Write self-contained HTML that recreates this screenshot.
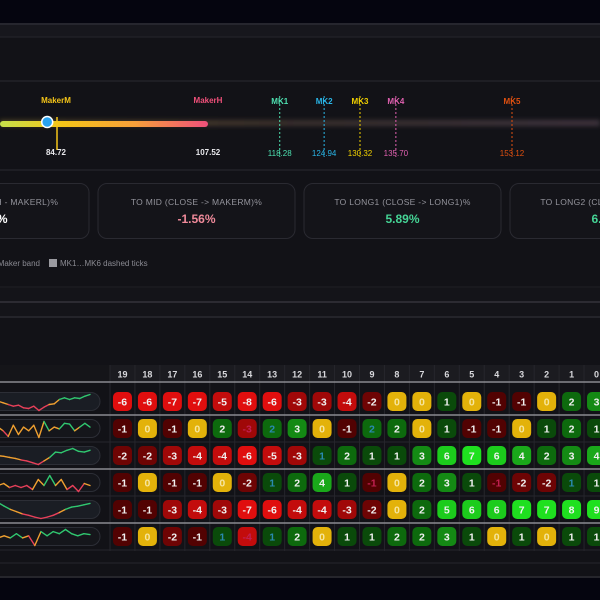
<!DOCTYPE html>
<html><head><meta charset="utf-8"><style>
html,body{margin:0;padding:0;background:#05050f;width:600px;height:600px;overflow:hidden}
svg{display:block;font-family:"Liberation Sans",sans-serif}
</style></head><body>
<svg id="chart" width="600" height="600" viewBox="0 0 600 600">
<defs>
<linearGradient id="bandGrad" x1="0" x2="1" y1="0" y2="0">
<stop offset="0" stop-color="#c6e04a"/><stop offset="0.3" stop-color="#f5c518"/><stop offset="0.65" stop-color="#f7a03a"/><stop offset="1" stop-color="#f0507a"/>
</linearGradient>
<linearGradient id="glowGrad" x1="0" x2="1"><stop offset="0" stop-color="#6a5a28" stop-opacity="0.7"/><stop offset="0.5" stop-color="#54423a" stop-opacity="0.6"/><stop offset="1" stop-color="#5a4a58" stop-opacity="0.6"/></linearGradient>
<filter id="blur" x="-10%" y="-200%" width="120%" height="500%"><feGaussianBlur stdDeviation="2.5"/></filter>
</defs>
<rect x="0" y="0" width="600" height="600" fill="#05050f"/>
<rect x="0" y="23" width="600" height="555" fill="#121217"/>
<rect x="0" y="23" width="600" height="14" fill="#17171d"/>
<line x1="0" x2="600" y1="24" y2="24" stroke="#2c2c34" stroke-width="1.5"/>
<line x1="0" x2="600" y1="37" y2="37" stroke="#26262c"/>
<line x1="0" x2="600" y1="81" y2="81" stroke="#222228" stroke-width="1.5"/>
<line x1="0" x2="600" y1="170" y2="170" stroke="#222228" stroke-width="1.5"/>
<line x1="0" x2="600" y1="287" y2="287" stroke="#202026"/>
<rect x="0" y="288" width="600" height="29" fill="#141419"/>
<line x1="0" x2="600" y1="302" y2="302" stroke="#35333a" stroke-width="1.5"/>
<line x1="0" x2="600" y1="317" y2="317" stroke="#2a2a30" stroke-width="1.5"/>
<line x1="0" x2="600" y1="563" y2="563" stroke="#26262c"/>
<line x1="0" x2="600" y1="577" y2="577" stroke="#2c2c34" stroke-width="1.5"/>
<rect x="0" y="578" width="600" height="22" fill="#05050f"/>
<g id="gauge"></g>
<g id="cards"></g>
<g>
<text x="40" y="266" text-anchor="end" font-size="8" fill="#8a8a92">Maker band</text>
<rect x="49" y="259" width="8" height="8" fill="#9a9aa0"/>
<text x="60" y="266" font-size="8" fill="#8a8a92">MK1…MK6 dashed ticks</text>
</g>
<g id="table"></g>
</svg>
<script>
const NS="http://www.w3.org/2000/svg";
function mk(tag,attrs,parent,txt){const e=document.createElementNS(NS,tag);for(const k in attrs)e.setAttribute(k,attrs[k]);if(txt!==undefined)e.textContent=txt;parent.appendChild(e);return e;}

// ---- gauge data ----
const makerLabels=["MakerM","MakerH"];
const makerValues=[84.72,107.52];
const makerColors=["#f5c518","#f0507a"];
const makerLow=76.32;
const closeValue=83.4;
const mkLabels=["MK1","MK2","MK3","MK4","MK5"];
const mkValues=[118.28,124.94,130.32,135.70,153.12];
const mkColors=["#4de0b0","#29b6e8","#f0d000","#e060b0","#e05010"];
function gx(v){return 56+(v-84.72)*(152/22.8);}

const g=document.getElementById('gauge');
mk('rect',{x:0,y:120,width:600,height:6,fill:'url(#glowGrad)',filter:'url(#blur)'},g);
const band=mk('rect',{x:gx(makerLow),y:121,width:gx(makerValues[1])-gx(makerLow),height:6,rx:3,fill:'url(#bandGrad)'},g);


const mline=mk('line',{x1:gx(makerValues[0])+1,x2:gx(makerValues[0])+1,y1:117,y2:150,stroke:'#f5c518','stroke-width':1.5},g);


makerLabels.forEach((l,i)=>{
  const t=mk('text',{x:gx(makerValues[i]),y:103,'text-anchor':'middle','font-size':8,'font-weight':'bold',fill:makerColors[i]},g,l);
  
  
  const v=mk('text',{x:gx(makerValues[i]),y:155,'text-anchor':'middle','font-size':8,'font-weight':'bold',fill:'#e8e8ec'},g,makerValues[i].toFixed(2));
  
  
});
mkLabels.forEach((l,i)=>{
  const x=gx(mkValues[i]);
  const ln=mk('line',{x1:x,x2:x,y1:96,y2:157,stroke:mkColors[i],'stroke-width':1,'stroke-dasharray':'2,2'},g);
  
  
  const t=mk('text',{x:x,y:104,'text-anchor':'middle','font-size':8,'font-weight':'bold',fill:mkColors[i]},g,l);
  
  
  const v=mk('text',{x:x,y:156,'text-anchor':'middle','font-size':8,fill:mkColors[i]},g,mkValues[i].toFixed(2));
  
  
});
const dot=mk('circle',{cx:gx(closeValue),cy:122,r:5.5,fill:'#29a3ef',stroke:'#ffffff','stroke-width':1.5},g);



// ---- cards ----
const cardTitles=["TO LOW (MAKERH - MAKERL)%","TO MID (CLOSE -> MAKERM)%","TO LONG1 (CLOSE -> LONG1)%","TO LONG2 (CLOSE -> LONG2)%"];
const cardValues=["2.60%","-1.56%","5.89%","6.90%"];
const cardColors=["#ffffff","#f08a9a","#45d495","#45d495"];
const cg=document.getElementById('cards');
cardTitles.forEach((t,i)=>{
  const x=-108+i*206;
  const r=mk('rect',{x:x,y:183.5,width:197,height:55,rx:9,fill:'#141419',stroke:'#2a2a31'},cg);
  
  
  const tt=mk('text',{x:x+98.5,y:205,'text-anchor':'middle','font-size':8.5,fill:'#94949c','letter-spacing':'0.3'},cg,t);
  
  
  const vv=mk('text',{x:x+98.5,y:223,'text-anchor':'middle','font-size':12,'font-weight':'bold',fill:cardColors[i]},cg,cardValues[i]);
  
  
});

// ---- table data ----
const columns=[19,18,17,16,15,14,13,12,11,10,9,8,7,6,5,4,3,2,1,0];
const row1=[-6,-6,-7,-7,-5,-8,-6,-3,-3,-4,-2,0,0,1,0,-1,-1,0,2,3];
const row2=[-1,0,-1,0,2,-3,2,3,0,-1,2,2,0,1,-1,-1,0,1,2,1];
const row3=[-2,-2,-3,-4,-4,-6,-5,-3,1,2,1,1,3,6,7,6,4,2,3,4];
const row4=[-1,0,-1,-1,0,-2,1,2,4,1,-1,0,2,3,1,-1,-2,-2,1,1];
const row5=[-1,-1,-3,-4,-3,-7,-6,-4,-4,-3,-2,0,2,5,6,6,7,7,8,9];
const row6=[-1,0,-2,-1,1,-4,1,2,0,1,1,2,2,3,1,0,1,0,1,1];
const rows=[row1,row2,row3,row4,row5,row6];
const spark1=[3,2.5,2,1.5,1.8,1,0.8,1.5,0.2,1.2,2,2.2,3.5,4,3.5,4,3.8,4.5,5];
const spark2=[3,2,0.5,3.5,1,3,2,3.5,0.2,4.5,2,3,2.5,4,3.8,2,3,4,3];
const spark3=[3,2.8,2.5,2.2,1.8,1.5,1,0.5,1.5,2.5,4,3.8,4.5,5,4.2,4,4.5];
const spark4=[2,2.5,1.5,2,1.5,2,1,3.5,2,4.5,2,3.5,1,2,0.5,2.5,2];
const spark5=[4,3.2,2.5,2,1.5,1.2,0.8,0.5,0.8,1.2,1.8,2.5,3,3.2,3.5,3.8];
const spark6=[2,2.5,2,3,2,2.5,0.2,3.5,2.5,3.5,3,4,3,2.5,3,2.8];
const sparks=[spark1,spark2,spark3,spark4,spark5,spark6];
const oddText=[[],[5,6,10],[8],[6,10,15,18],[],[4,5,6]];

const tg=document.getElementById('table');
const X0=110,CW=24.95,RH=27,Y0=388;
function cx(i){return X0+CW*i+CW/2;}
function cy(r){return Y0+RH*r+RH/2;}
mk('rect',{x:110,y:365,width:490,height:16,fill:'#1b1b20'},tg);
mk('rect',{x:0,y:365,width:110,height:16,fill:'#151519'},tg);
for(let i=0;i<=columns.length;i++){
  mk('line',{x1:X0+CW*i,x2:X0+CW*i,y1:365,y2:551,stroke:'#26262c'},tg);
}
columns.forEach((c,i)=>{
  const t=mk('text',{x:cx(i),y:377.5,'text-anchor':'middle','font-size':9,'font-weight':'bold',fill:'#d8d8dc'},tg,String(c));
  
  
});
const bright=[0,1,3,5];
for(let r=0;r<=6;r++){
  const y=Y0+RH*r-(r===0?6:0);
  const b=bright.includes(r);
  mk('line',{x1:0,x2:600,y1:y,y2:y,stroke:b?'#8a8a90':'#26262c','stroke-width':b?1.5:1},tg);
}
function cellColor(v){
  if(v===0)return '#e3b20a';
  if(v<=-6)return '#e00e0e';
  if(v<=-4)return '#c30c0c';
  if(v<=-3)return '#a00808';
  if(v<=-2)return '#6e0404';
  if(v<0)return '#520202';
  if(v>=7)return '#1fe01f';
  if(v>=5)return '#1ccc1c';
  if(v>=4)return '#1aa81a';
  if(v>=3)return '#148a14';
  if(v>=2)return '#0d6a0d';
  return '#0a4a0a';
}
function lineColor(v,min,max){const f=(v-min)/(max-min||1);return f<0.33?'#e8405a':(f<0.6?'#f0a030':'#30c870');}
rows.forEach((row,r)=>{
  const p=mk('rect',{x:-20,y:cy(r)-9,width:120,height:18,rx:9,fill:(r%2===0)?'#1a1d24':'#15161b',stroke:'#2c2e36'},tg);
  
  
  const s=sparks[r],mn=Math.min(...s),mx=Math.max(...s);
  const sx=i=>-2+i*(92/(s.length-1)),sy=v=>cy(r)+9-(v-mn)/(mx-mn)*16;
  for(let i=0;i<s.length-1;i++){
    const seg=mk('line',{x1:sx(i),y1:sy(s[i]),x2:sx(i+1),y2:sy(s[i+1]),stroke:lineColor((s[i]+s[i+1])/2,mn,mx),'stroke-width':1.4,'stroke-linecap':'round'},tg);
    
    
  }
  row.forEach((v,i)=>{
    const b=mk('rect',{x:cx(i)-9.5,y:cy(r)-9.5,width:19,height:19,rx:5,fill:cellColor(v)},tg);
    
    
    let col=v===0?'#f6e6a0':'#f0f0f0';
    if(oddText[r].includes(i))col=v<0?'#c02050':'#2a8ab0';
    const t=mk('text',{x:cx(i),y:cy(r)+3.8,'text-anchor':'middle','font-size':10.5,'font-weight':'bold',fill:col},tg,String(v));
    
    
  });
});
</script>
</body></html>
